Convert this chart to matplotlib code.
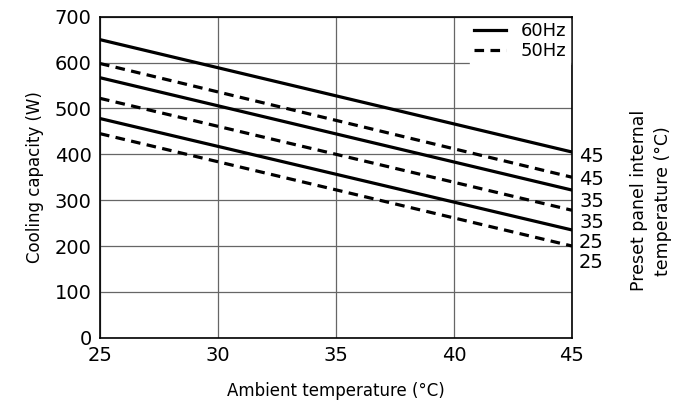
import matplotlib
matplotlib.use("Agg")
import matplotlib.pyplot as plt
from matplotlib.lines import Line2D

x_ends = [25, 45]
series = [
    ("60Hz", "45", [650, 405], "-"),
    ("50Hz", "45", [598, 350], "--"),
    ("60Hz", "35", [567, 322], "-"),
    ("50Hz", "35", [522, 278], "--"),
    ("60Hz", "25", [478, 235], "-"),
    ("50Hz", "25", [445, 200], "--"),
]
label_y = [395, 345, 298, 252, 207, 163]

fig = plt.figure(figsize=(6.85, 4.18), dpi=100)
ax = fig.add_axes([0.146, 0.192, 0.689, 0.768])
for (freq, t, vals, ls), ly in zip(series, label_y):
    ax.plot(x_ends, vals, color="black", lw=2.3, ls=ls, dashes=(3, 2) if ls == "--" else (None, None))
    ax.text(45.3, ly, t, fontsize=14, va="center", ha="left", clip_on=False)
ax.set_xlim(25, 45)
ax.set_ylim(0, 700)
ax.set_xticks([25, 30, 35, 40, 45])
ax.set_yticks(range(0, 701, 100))
ax.grid(True, color="#666666", lw=0.9)
ax.tick_params(length=0, labelsize=14, pad=6)
for s in ax.spines.values():
    s.set_linewidth(1.2)
h = [Line2D([], [], color="black", lw=2.3), Line2D([], [], color="black", lw=2.3, dashes=(3, 2))]
ax.legend(h, ["60Hz", "50Hz"], loc="upper right", fontsize=13, frameon=True, fancybox=False,
          handlelength=1.8, borderpad=0.2, labelspacing=0.1, borderaxespad=0.1, edgecolor="white", framealpha=1)
ax.set_xlabel("Ambient temperature (°C)", fontsize=12, labelpad=12)
ax.set_ylabel("Cooling capacity (W)", fontsize=12, labelpad=8)
fig.text(0.95, 0.52, "Preset panel internal\ntemperature (°C)", rotation=90, fontsize=12.5, ha="center", va="center", linespacing=1.4)
fig.savefig("out.png", dpi=100)
